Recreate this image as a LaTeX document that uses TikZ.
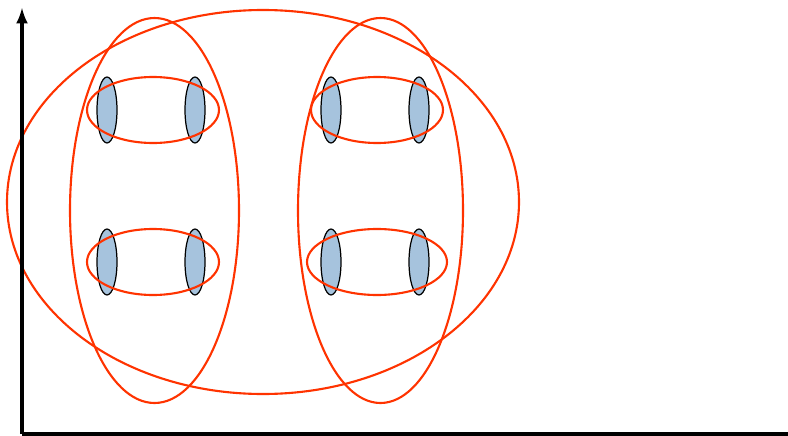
\documentclass[tikz,border=0pt]{standalone}
\usepackage{tikz}
\usetikzlibrary{calc}
\definecolor{setred}{RGB}{255,51,0}
\definecolor{cellblue}{RGB}{166,195,221}

\begin{document}
\begin{tikzpicture}[x=0.02cm,y=-0.02cm,
    set/.style={draw=setred,line width=1.2pt},
    cell/.style={draw=black,fill=cellblue,line width=0.7pt}]
  \useasboundingbox (0,0) rectangle (788,436);
  \coordinate (origin) at (22,434);
  \coordinate (ytop) at (22,8);
  \coordinate (xend) at (788,434);
  % Each pair of cells sits inside a small set; pairs group into columns, columns into the whole.
  \foreach \cx in {153,377}{
    \foreach \cy in {110,262}{
      \draw[cell] (\cx-46,\cy) ellipse[x radius=10,y radius=33];
      \draw[cell] (\cx+42,\cy) ellipse[x radius=10,y radius=33];
    }
  }
  \draw[set] (153,110) ellipse[x radius=66,y radius=33];
  \draw[set] (377,110) ellipse[x radius=66,y radius=33];
  \draw[set] (153,262) ellipse[x radius=66,y radius=33];
  \draw[set] (377,262) ellipse[x radius=70,y radius=33];
  \draw[set] (154.5,210.5) ellipse[x radius=84.5,y radius=192.5];
  \draw[set] (380.5,210.5) ellipse[x radius=82.5,y radius=192.5];
  \draw[set] (263,202) ellipse[x radius=256,y radius=192];
  \draw[-latex,line width=2pt] (origin) -- (ytop);
  \draw[line width=2pt] (origin) -- (xend);
\end{tikzpicture}
\end{document}
